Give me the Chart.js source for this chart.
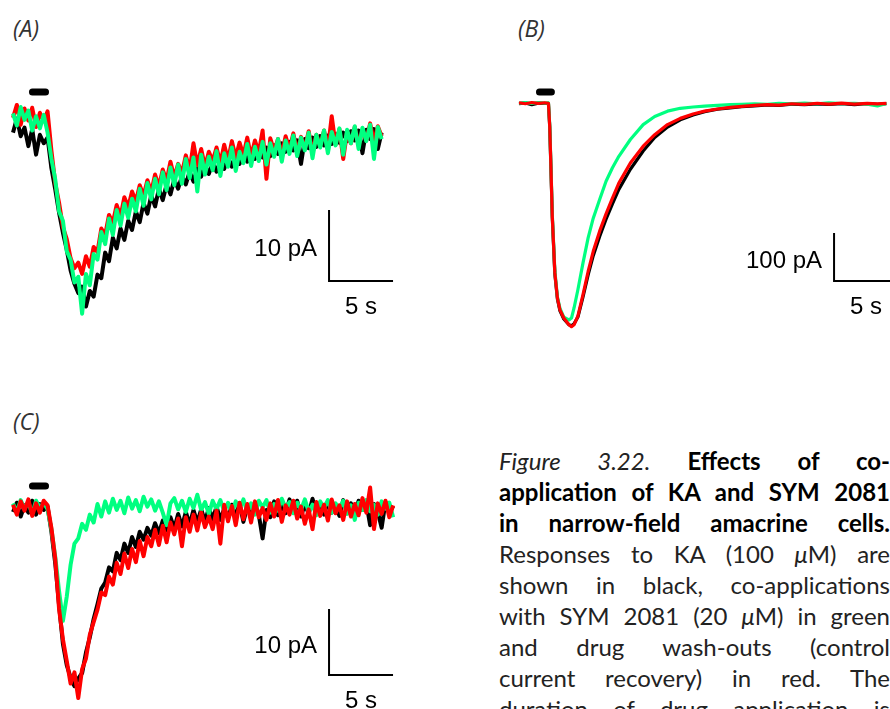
<!DOCTYPE html>
<html>
<head>
<meta charset="utf-8">
<script src="https://cdn.jsdelivr.net/npm/chart.js@4.4.1/dist/chart.umd.min.js"></script>
<style>
  body { margin: 0; width: 890px; height: 709px; overflow: hidden; background: #fff; position: relative; }
  canvas { position: absolute; }
  .panel { position: absolute; font-family: "Open Sans", sans-serif; font-style: italic; font-size: 23px; line-height: 23px; color: #333; }
  #caption { position: absolute; left: 499px; top: 445px; width: 391px; font-family: Lato, sans-serif; font-size: 24px; line-height: 31px; color: #222; }
  #caption div { text-align: justify; text-align-last: justify; height: 31px; white-space: nowrap; }
  #caption b { color: #000; }
</style>
</head>
<body>
<div class="panel" style="left:13px; top:17px;">(A)</div>
<div class="panel" style="left:518px; top:17px;">(B)</div>
<div class="panel" style="left:13px; top:410px;">(C)</div>

<canvas id="panelA" width="400" height="270" style="left:0; top:60px;"></canvas>
<canvas id="panelB" width="390" height="280" style="left:500px; top:60px;"></canvas>
<canvas id="panelC" width="400" height="269" style="left:0; top:440px;"></canvas>

<div id="caption">
  <div><i>Figure 3.22.</i> <b>Effects of co-</b></div>
  <div><b>application of KA and SYM 2081</b></div>
  <div><b>in narrow-field amacrine cells.</b></div>
  <div>Responses to KA (100 <i>&mu;</i>M) are</div>
  <div>shown in black, co-applications</div>
  <div>with SYM 2081 (20 <i>&mu;</i>M) in green</div>
  <div>and drug wash-outs (control</div>
  <div>current recovery) in red. The</div>
  <div>duration of drug application is</div>
</div>

<script>
// sampling interval of the traces in (A) and (C), s
const dtA = 0.3;
const dtC = 0.3;

// (A) membrane current, pA
const aKA = [
  -1.5, 0.5, -2.0, -0.8, -3.4, -1.0, -4.6, -1.8, -3.0, -2.2,
  -6.5, -9.5, -12.8, -15.6, -18.0, -20.9, -22.8, -24.1, -23.2, -26.0,
  -23.8, -24.6, -21.5, -22.0, -18.4, -19.6, -16.3, -17.8, -15.0, -16.6,
  -13.9, -15.2, -12.6, -14.1, -11.4, -12.9, -10.3, -11.9, -9.4, -11.0,
  -8.8, -10.2, -8.1, -9.4, -7.6, -8.8, -7.0, -8.4, -6.5, -7.7,
  -6.1, -7.3, -5.8, -7.0, -5.4, -6.6, -5.0, -6.3, -4.7, -5.9,
  -4.3, -5.6, -4.0, -5.2, -3.8, -5.0, -3.6, -4.8, -3.3, -4.5,
  -3.0, -4.2, -2.8, -4.0, -2.6, -5.9, -2.4, -3.7, -2.2, -3.5,
  -2.0, -3.3, -1.9, -3.1, -1.7, -2.9, -1.5, -2.7, -1.3, -2.6,
  -1.2, -4.4, -1.1, -2.4, -1.0, -3.8, -1.5
];
const aSYM = [
  1.2, -0.5, 2.1, 0.3, 1.6, -1.2, 0.8, -0.9, 1.0, -1.5,
  -5.2, -8.1, -12.6, -13.9, -18.2, -19.4, -22.6, -21.8, -27.0, -21.4,
  -23.0, -18.6, -19.4, -15.5, -17.2, -13.6, -15.9, -12.4, -14.6, -11.5,
  -13.5, -10.8, -12.6, -9.4, -11.8, -8.6, -10.9, -8.0, -10.2, -7.1,
  -9.6, -6.4, -8.9, -6.0, -8.7, -5.2, -7.9, -5.0, -9.8, -4.6,
  -7.4, -4.9, -6.8, -4.1, -7.6, -4.4, -6.3, -3.6, -6.9, -4.2,
  -5.8, -3.1, -6.2, -3.5, -5.5, -2.8, -6.0, -3.0, -4.9, -2.4,
  -5.6, -2.6, -4.5, -1.9, -4.8, -2.2, -4.0, -1.5, -5.1, -1.8,
  -3.6, -1.2, -4.4, -1.4, -3.3, -0.9, -4.6, -1.1, -3.0, -0.6,
  -3.8, -0.8, -2.7, -0.4, -5.2, -0.7, -2.4
];
const aWash = [
  0.6, 2.4, -0.4, 1.9, 0.2, 2.0, -0.7, 1.3, 0.1, 1.5,
  -4.0, -8.6, -11.4, -14.8, -16.5, -19.2, -20.6, -19.8, -21.4, -18.9,
  -20.4, -17.6, -18.3, -15.0, -15.9, -13.1, -14.2, -11.7, -13.3, -10.6,
  -12.0, -9.8, -11.2, -8.9, -10.4, -8.2, -9.9, -7.4, -9.1, -6.7,
  -8.3, -5.6, -7.8, -5.9, -7.2, -4.7, -6.8, -3.0, -6.1, -3.8,
  -6.3, -4.2, -5.5, -3.6, -5.8, -3.2, -5.4, -2.7, -5.0, -2.9,
  -4.7, -2.2, -4.9, -2.6, -4.3, -1.2, -8.0, -2.3, -4.1, -2.4,
  -4.6, -2.0, -3.9, -1.6, -4.2, -2.1, -3.7, -1.3, -4.4, -1.8,
  -3.4, -1.2, -3.8, 0.8, -3.2, -1.0, -5.2, -1.4, -3.0, -0.7,
  -3.3, -1.1, -2.6, -0.2, -2.8, -0.6, -2.0
];

// (B) sample times, s, and current, pA
const bTime = [
  0, 0.5, 1.0, 1.5, 2.0, 2.3, 2.4, 2.5, 2.6, 2.8,
  3.0, 3.2, 3.5, 3.9, 4.1, 4.3, 4.6, 5.0, 5.4, 5.8,
  6.3, 6.8, 7.3, 7.8, 8.7, 9.7, 10.6, 11.6, 12.6, 13.6,
  14.5, 15.5, 16.5, 17.4, 18.4, 19.4, 20.3, 21.3, 22.3, 23.3,
  24.2, 25.2, 26.2, 27.2, 28.0, 28.7
];
const bKA = [
  -1.2, 0.3, -3.5, -0.4, -1.0, -0.9, -50, -141, -238, -356,
  -408, -433, -450, -462, -464, -460, -446, -404, -358, -318,
  -278, -242, -210, -180, -138, -100, -72, -50, -35, -25,
  -18, -13, -10, -7.5, -6, -4, -4.8, -2.5, -3.6, -1.8,
  -3.0, -1.5, -3.2, -1.4, -2.6, -1.2
];
const bSYM = [
  -0.5, 0.8, -0.6, 1.0, -0.3, 0.2, -45, -136, -232, -350,
  -404, -428, -446, -452, -448, -427, -389, -333, -281, -240,
  -201, -163, -135, -111, -76, -45, -28, -17, -11, -8.3,
  -6.3, -4.9, -3.5, -2.8, -1.5, -2.6, -0.8, -2.0, -0.3, -1.6,
  0.2, -1.4, -0.5, -2.2, -6.0, -1.0
];
const bWash = [
  0.5, -1.5, 1.0, -0.8, 0.6, -0.7, -48.6, -139, -236, -354,
  -406, -431, -448, -462, -466, -462, -444, -399, -351, -309,
  -267, -231, -198, -167, -125, -90, -66, -45, -32, -23,
  -17, -12.5, -9, -7, -5, -3.5, -4.5, -1.5, -2.8, -0.5,
  -2.2, -0.4, -2.5, -0.8, -1.9, -0.6
];

// (C) membrane current, pA
const cKA = [
  -0.8, 0.6, -1.5, 0.2, -0.9, 0.9, -1.2, 0.4, -0.5, 0.0,
  -3.8, -8.6, -15.0, -20.8, -24.0, -25.9, -27.2, -26.0, -25.2, -22.1,
  -19.8, -17.0, -14.8, -12.4, -11.5, -9.2, -9.8, -7.0, -8.1, -5.6,
  -7.0, -4.6, -6.1, -3.8, -5.0, -3.2, -4.4, -2.5, -4.0, -2.1,
  -3.6, -1.6, -3.3, -1.1, -3.0, -0.8, -2.7, -0.5, -2.4, -0.4,
  -2.2, -0.2, -1.9, 0.0, -2.0, -0.3, -1.7, 0.3, -1.5, 0.5,
  -2.3, -0.1, -1.4, 0.6, -1.2, -4.8, -0.5, -1.6, 0.8, -1.3,
  0.2, -1.0, 1.1, -0.8, 0.9, -1.5, 0.4, -1.1, 1.2, -0.7,
  0.6, -1.2, 0.8, -0.9, 0.3, -1.4, 1.0, -0.6, 0.5, -1.1,
  0.9, -0.5, 0.6, -2.8, 0.4, -0.8, -3.2, 0.7, -0.9, 0.1
];
const cSYM = [
  0.5, -0.8, 1.0, -0.3, 0.7, -1.1, 0.9, -0.2, 0.6, -0.4,
  -3.4, -7.6, -12.8, -17.3, -13.6, -8.8, -5.6, -4.8, -2.6, -3.5,
  -1.2, -2.4, 0.4, -1.5, 0.8, -0.9, 1.2, -0.5, 0.9, -1.0,
  1.4, -0.3, 1.0, -0.7, 1.5, 0.0, 1.1, -0.6, 0.8, -0.9,
  -2.8, 0.5, 1.3, -0.4, 0.9, -0.8, 1.2, -0.2, 1.8, -0.5,
  0.7, -1.1, 0.9, -0.4, 1.0, -0.7, 0.6, -1.0, 0.8, -0.3,
  1.1, -0.8, 0.5, -1.2, 0.9, -0.1, 1.0, -0.9, 0.4, -0.6,
  1.2, -0.2, 0.7, -1.0, 0.6, -0.5, 1.1, -0.8, 0.3, -1.3,
  0.8, -0.2, 1.0, -0.9, 0.5, -0.4, 0.9, -1.1, 0.2, -2.0,
  0.6, -0.5, 1.0, -0.7, 0.3, -1.2, 0.8, -0.3, 0.6, -1.6
];
const cWash = [
  0.3, -1.2, 0.8, -0.6, 1.1, -1.4, 0.5, -0.9, 0.9, 0.2,
  -3.2, -7.9, -15.5, -20.1, -23.4, -26.8, -25.1, -29.0, -24.6, -23.0,
  -19.4, -17.5, -15.6, -13.0, -13.4, -10.6, -11.8, -8.5, -10.2, -7.1,
  -9.3, -6.4, -8.4, -5.2, -7.5, -4.6, -6.0, -3.5, -5.8, -2.9,
  -5.4, -2.4, -4.2, -1.8, -6.0, -1.6, -3.8, -1.2, -3.6, -0.9,
  -3.1, -1.5, -3.4, -0.6, -5.6, 0.3, -2.2, 0.1, -2.8, 0.6,
  -1.9, 0.4, -2.4, 0.8, -1.6, -0.2, -2.0, 0.5, -1.5, 1.0,
  -2.3, 0.2, -1.2, 0.9, -1.8, 0.0, -2.6, -0.4, -3.4, 0.7,
  -1.4, 0.3, -2.1, 1.1, -1.0, 0.2, -2.0, 0.8, -1.5, 0.4,
  -1.3, 1.3, -0.9, 2.9, -3.4, 0.5, -1.1, 0.9, -1.6, 0.2
];

const colKA = '#000000';
const colSYM = '#00ff80';
const colWash = '#ff0000';

function sampled(values, dt) {
  return values.map((v, i) => ({ x: i * dt, y: v }));
}
function timed(times, values) {
  return times.map((t, i) => ({ x: t, y: values[i] }));
}

// writes "10 pA" / "5 s" next to the calibration bar
const scaleLabels = {
  id: 'scaleLabels',
  afterDatasetsDraw(chart, args, opts) {
    const { ctx, scales: { x, y } } = chart;
    const x0 = x.getPixelForValue(opts.t);
    const x1 = x.getPixelForValue(opts.t + opts.dt);
    const yTop = y.getPixelForValue(opts.i);
    const yBot = y.getPixelForValue(opts.i - opts.di);
    ctx.save();
    ctx.fillStyle = '#000';
    ctx.font = '24px "Liberation Sans", Arial, sans-serif';
    ctx.textBaseline = 'alphabetic';
    ctx.textAlign = 'right';
    ctx.fillText(opts.yText, x0 - 12, (yTop + yBot) / 2 + 11);
    ctx.textAlign = 'center';
    ctx.fillText(opts.xText, (x0 + x1) / 2, yBot + 33);
    ctx.restore();
  }
};

function drawPanel(id, traces, lineW, bar, sb, xr, yr) {
  const datasets = traces.map((tr, k) => ({
    data: tr.points,
    borderColor: tr.color,
    borderWidth: lineW,
    borderJoinStyle: 'round',
    pointRadius: 0,
    tension: 0,
    order: k + 1
  }));
  // application bar
  datasets.push({
    data: [{ x: bar.from, y: bar.level }, { x: bar.to, y: bar.level }],
    borderColor: '#000', borderWidth: 7, borderCapStyle: 'round',
    pointRadius: 0, order: 0
  });
  // calibration bar
  datasets.push({
    data: [{ x: sb.t, y: sb.i }, { x: sb.t, y: sb.i - sb.di }, { x: sb.t + sb.dt, y: sb.i - sb.di }],
    borderColor: '#000', borderWidth: 2, borderJoinStyle: 'miter',
    pointRadius: 0, order: 0
  });

  new Chart(document.getElementById(id), {
    type: 'line',
    data: { datasets },
    options: {
      responsive: false,
      animation: false,
      devicePixelRatio: 1,
      events: [],
      layout: { padding: 0 },
      scales: {
        x: { type: 'linear', display: false, min: xr[0], max: xr[1] },
        y: { type: 'linear', display: false, min: yr[0], max: yr[1] }
      },
      plugins: {
        legend: { display: false },
        tooltip: { enabled: false },
        scaleLabels: sb
      }
    },
    plugins: [scaleLabels]
  });
}

drawPanel('panelA',
  [
    { points: sampled(aSYM, dtA), color: colSYM },
    { points: sampled(aWash, dtA), color: colWash },
    { points: sampled(aKA, dtA), color: colKA }
  ],
  4,
  { from: 1.52, to: 2.54, level: 4.23 },
  { t: 24.69, i: -12.39, dt: 5, di: 10, xText: '5 s', yText: '10 pA' },
  [-1.016, 30.234], [-29.3, 8.73]);

drawPanel('panelB',
  [
    { points: timed(bTime, bWash), color: colWash },
    { points: timed(bTime, bSYM), color: colSYM },
    { points: timed(bTime, bKA), color: colKA }
  ],
  3.2,
  { from: 1.6, to: 2.53, level: 22.9 },
  { t: 24.61, i: -270.8, dt: 5, di: 100, xText: '5 s', yText: '100 pA' },
  [-1.484, 28.98], [-493.75, 89.6]);

drawPanel('panelC',
  [
    { points: sampled(cWash, dtC), color: colWash },
    { points: sampled(cSYM, dtC), color: colSYM },
    { points: sampled(cKA, dtC), color: colKA }
  ],
  4,
  { from: 1.52, to: 2.54, level: 3.14 },
  { t: 24.69, i: -15.5, dt: 5, di: 10, xText: '5 s', yText: '10 pA' },
  [-1.016, 30.234], [-30.65, 10.1]);
</script>
</body>
</html>
